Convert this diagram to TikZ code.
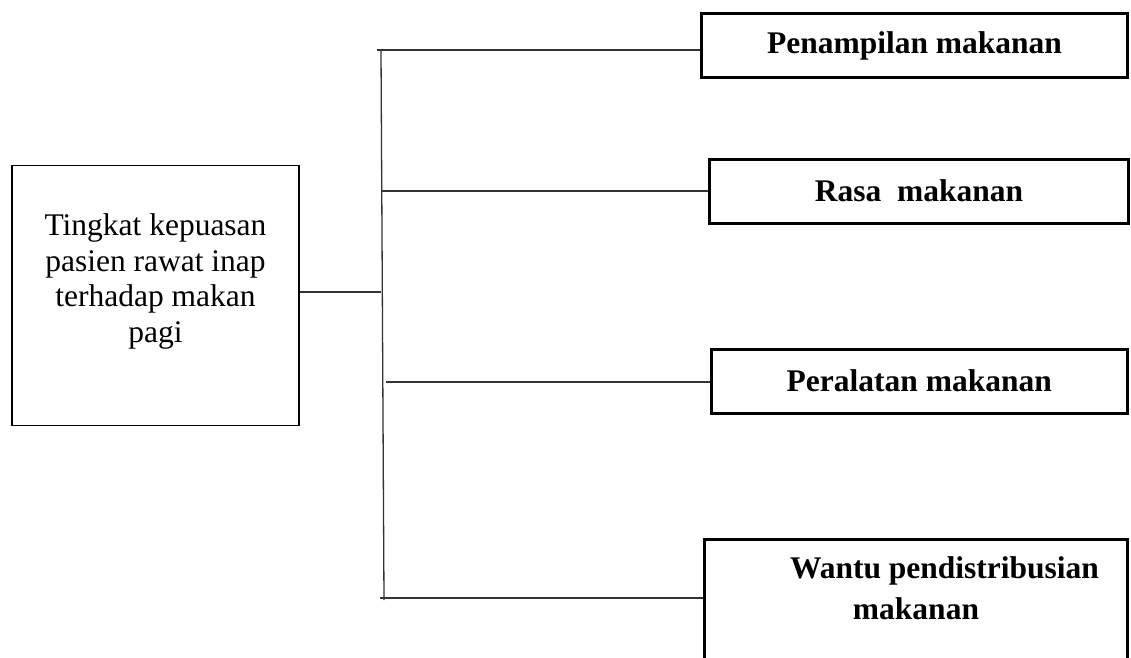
\documentclass[tikz,border=0pt]{standalone}
\usepackage{fontspec}
\setmainfont{Liberation Serif}
\usetikzlibrary{positioning}
\newcommand{\lbfont}{\fontsize{31.5}{35.6}\selectfont}
\tikzset{
  mainbox/.style={draw, line width=1.4pt, align=center, font=\lbfont,
                  minimum width=287pt, inner xsep=0pt},
  factor/.style={draw, line width=3pt, font=\lbfont\bfseries,
                 minimum height=64pt, inner sep=0pt},
  link/.style={line width=1.3pt, black!80}
}

\begin{document}
\begin{tikzpicture}[x=1pt,y=-1pt]
   \useasboundingbox (0,0) rectangle (1131,657);
   \clip (0,0) rectangle (1131,657);
 %
   \node[mainbox, anchor=north, inner ysep=48.5pt, text height=128.3pt,
         text depth=34.7pt] (puas) at (155.5,165)
        {Tingkat kepuasan\\pasien rawat inap\\terhadap makan\\pagi};
 %
   \node[factor, minimum width=426pt]   (tampil) at (914.5, 45.5) {Penampilan makanan};
   \node[factor, minimum width=419pt]   (rasa)   at (919,  191)   {Rasa\ \ makanan};
   \node[factor, minimum width=416.5pt] (alat)   at (919.25,381)  {Peralatan makanan};
   \node[factor, anchor=north, minimum width=423pt, inner ysep=17.5pt, align=center,
         text height=62.5pt, text depth=110pt] (waktu) at (916,538)
        {\hspace*{57pt}Wantu pendistribusian\\[5.4pt]makanan};
 %
   \coordinate (sptop) at (381, 51);
   \coordinate (spbot) at (384,600);
   \coordinate (spmid) at (381,292);
   \coordinate (sp1)   at (377, 50);
   \coordinate (sp2)   at (382,191);
   \coordinate (sp3)   at (386,382);
   \coordinate (sp4)   at (380,598);
 %
   \draw[link] (sptop) -- (spbot);
   \draw[link] (puas.east |- spmid) -- (spmid);
   \draw[link] (sp1) -- (sp1 -| tampil.west);
   \draw[link] (sp2) -- (rasa.west);
   \draw[link] (sp3) -- (sp3 -| alat.west);
   \draw[link] (sp4) -- (sp4 -| waktu.west);
\end{tikzpicture}
\end{document}
